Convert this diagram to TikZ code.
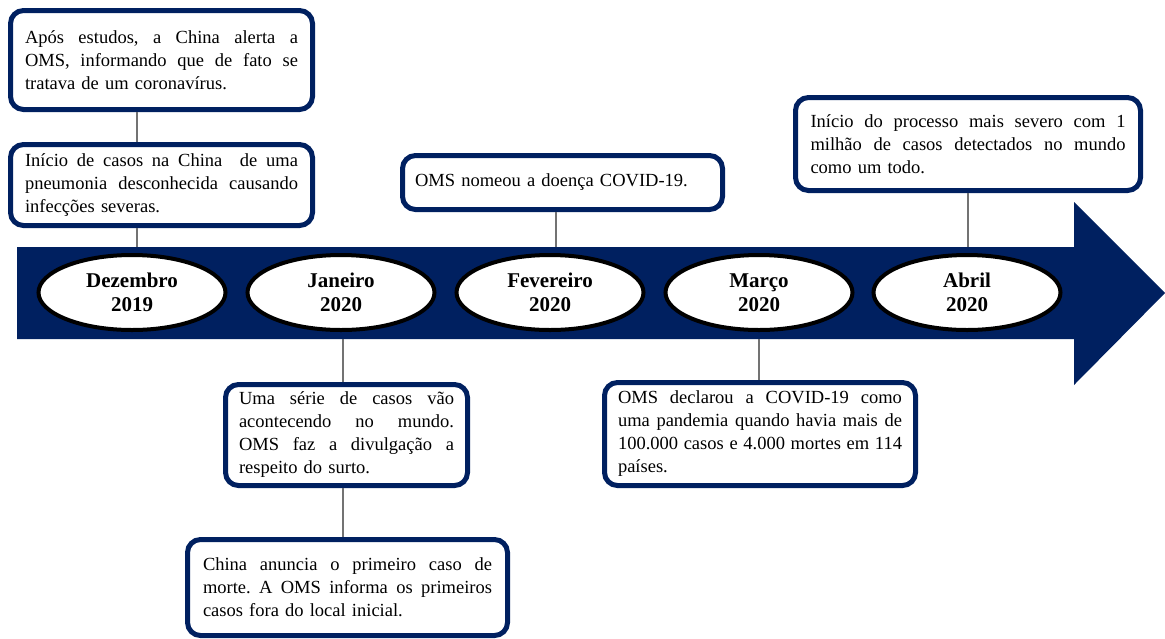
\documentclass[tikz,border=0pt]{standalone}
\usepackage{fontspec}
\setmainfont{Liberation Serif}
\frenchspacing
\usetikzlibrary{shapes.geometric}
\definecolor{navy}{HTML}{002060}
\newcommand\jl[2]{\leavevmode\hbox to #1{\spaceskip=0.25em plus 1fil\relax #2}}
\begin{document}
\begin{tikzpicture}[x=1pt,y=-1pt,
  evbox/.style={draw=navy, line width=5pt, rounded corners=13pt, fill=white,
    inner xsep=0pt, inner ysep=0pt, outer sep=2.5pt, align=left,
    font=\fontsize{18.5}{23}\selectfont},
  month/.style={ellipse, draw=black, line width=4pt, fill=white,
    minimum width=187pt, minimum height=75pt, inner sep=0pt, align=center,
    font=\fontsize{21}{24}\selectfont\bfseries},
  link/.style={draw=black!55, line width=1.3pt}]
\useasboundingbox (0,0) rectangle (1165,638);

% timeline arrow
\fill[navy] (17,247) -- (1074,247) -- (1074,202) -- (1165,293) -- (1074,385)
  -- (1074,339) -- (17,339) -- cycle;

% months
\node[month] (m1) at (132,292.5) {Dezembro\\2019};
\node[month] (m2) at (341,292.5) {Janeiro\\2020};
\node[month] (m3) at (550,292.5) {Fevereiro\\2020};
\node[month] (m4) at (759,292.5) {Março\\2020};
\node[month] (m5) at (967,292.5) {Abril\\2020};

% connector end points on the arrow
\coordinate (a1) at (137,247);
\coordinate (a2) at (343,339);
\coordinate (a3) at (556,247);
\coordinate (a4) at (759,339);
\coordinate (a5) at (968,247);

% event boxes
\node[evbox, text width=273pt, minimum width=302pt, minimum height=99pt] (b1) at (161.5,60)
  {\jl{273pt}{Após estudos, a China alerta a}\\
   \jl{273pt}{OMS, informando que de fato se}\\
   tratava de um coronavírus.};
\node[evbox, text width=273pt, minimum width=302pt, minimum height=81pt] (b2) at (161.5,185)
  {\jl{273pt}{Início de casos na China\ \ de uma}\\
   \jl{273pt}{pneumonia desconhecida causando}\\
   infecções severas.};
\node[evbox, text width=295pt, minimum width=320pt, minimum height=54pt] (bf) at (562.5,182.5)
  {OMS nomeou a doença COVID-19.};
\node[evbox, text width=315pt, minimum width=345pt, minimum height=93pt] (ba) at (968,144)
  {\jl{315pt}{Início do processo mais severo com 1}\\
   \jl{315pt}{milhão de casos detectados no mundo}\\
   como um todo.};
\node[evbox, text width=215pt, minimum width=242pt, minimum height=101pt] (bj1) at (346.5,435)
  {\jl{215pt}{Uma série de casos vão}\\
   \jl{215pt}{acontecendo no mundo.}\\
   \jl{215pt}{OMS faz a divulgação a}\\
   respeito do surto.};
\node[evbox, text width=289pt, minimum width=320pt, minimum height=96pt] (bj2) at (347.5,587.5)
  {\jl{289pt}{China anuncia o primeiro caso de}\\
   \jl{289pt}{morte. A OMS informa os primeiros}\\
   casos fora do local inicial.};
\node[evbox, text width=284pt, minimum width=311pt, minimum height=103pt] (bm) at (760,434)
  {\jl{284pt}{OMS declarou a COVID-19 como}\\
   \jl{284pt}{uma pandemia quando havia mais de}\\
   \jl{284pt}{100.000 casos e 4.000 mortes em 114}\\
   países.};

% connectors
\draw[link] (b1.south -| a1) -- (b2.north -| a1);
\draw[link] (b2.south -| a1) -- (a1);
\draw[link] (a2) -- (bj1.north -| a2);
\draw[link] (bj1.south -| a2) -- (bj2.north -| a2);
\draw[link] (bf.south -| a3) -- (a3);
\draw[link] (a4) -- (bm.north -| a4);
\draw[link] (ba.south -| a5) -- (a5);
\end{tikzpicture}
\end{document}
